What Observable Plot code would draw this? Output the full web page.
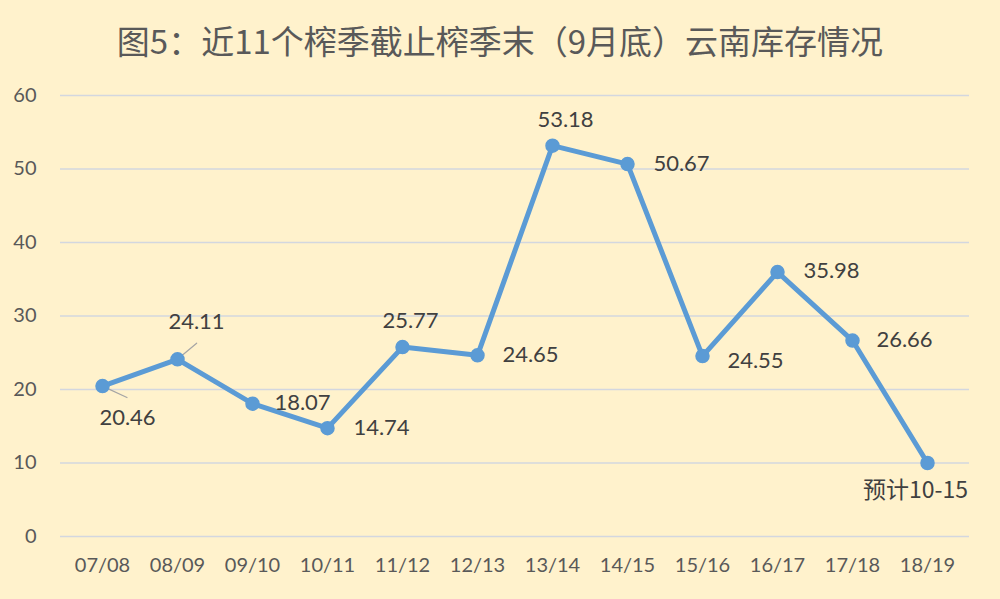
<!DOCTYPE html>
<html>
<head>
<meta charset="utf-8">
<script src="https://cdn.jsdelivr.net/npm/d3@7"></script>
<script src="https://cdn.jsdelivr.net/npm/@observablehq/plot@0.6"></script>
<style>
  html, body { margin: 0; padding: 0; background: #FFF2CC; }
  #title { height: 80px; line-height: 80px; text-align: center; font-family: "Noto Sans CJK SC", sans-serif; font-size: 33px; color: #595959; }
  #chart svg { display: block; }
</style>
</head>
<body>
<div id="title">图5：近11个榨季截止榨季末（9月底）云南库存情况</div>
<div id="chart"></div>
<script>
const categories = ["07/08","08/09","09/10","10/11","11/12","12/13","13/14","14/15","15/16","16/17","17/18","18/19"];
const values = [20.46, 24.11, 18.07, 14.74, 25.77, 24.65, 53.18, 50.67, 24.55, 35.98, 26.66, 10];
const labels = ["20.46","24.11","18.07","14.74","25.77","24.65","53.18","50.67","24.55","35.98","26.66","预计10-15"];
const yTicks = [0, 10, 20, 30, 40, 50, 60];
// label placement offsets (px) relative to each point
const labelDx = [25, 19, 50, 54, 8, 53, 13, 54, 53, 54, 52, -12];
const labelDy = [32, -37, -1, 0, -26, 0, -26, 0, 5, -1, -1, 28];

const data = categories.map((c, i) => ({cat: c, v: values[i], label: labels[i], dx: labelDx[i], dy: labelDy[i]}));

const leaderShape = { draw(context, l) { context.moveTo(0, 0); context.lineTo(0, -l); } };

const plot = Plot.plot({
  width: 1000,
  height: 519,
  marginLeft: 60,
  marginRight: 31,
  marginTop: 15,
  marginBottom: 63,
  style: { background: "transparent", fontFamily: "Lato, sans-serif", color: "#595959" },
  x: { type: "point", domain: categories, padding: 0.5, label: null },
  y: { domain: [0, 60], label: null },
  marks: [
    Plot.ruleY(yTicks, { stroke: "#d3d7df", strokeWidth: 1.3 }),
    Plot.axisY({ ticks: yTicks, tickSize: 0, tickPadding: 24, fontSize: 20, label: null }),
    Plot.axisX({ tickSize: 0, tickPadding: 21, fontSize: 20, label: null }),
    Plot.vector([data[0]], { x: "cat", y: "v", length: 27, rotate: 115, anchor: "start", shape: leaderShape, stroke: "#a5a5a5", strokeWidth: 1.2 }),
    Plot.vector([data[1]], { x: "cat", y: "v", length: 25, rotate: 50, anchor: "start", shape: leaderShape, stroke: "#a5a5a5", strokeWidth: 1.2 }),
    Plot.line(data, { x: "cat", y: "v", stroke: "#5B9BD5", strokeWidth: 5, curve: "linear" }),
    Plot.dot(data, { x: "cat", y: "v", r: 6.5, fill: "#5B9BD5", stroke: "#5B9BD5" }),
    ...data.map(d => Plot.text([d], {
      x: "cat", y: "v", text: "label", dx: d.dx, dy: d.dy,
      fontSize: d.label.startsWith("预") ? 23 : 22, fill: "#404040",
      fontFamily: d.label.startsWith("预") ? "Noto Sans CJK SC, sans-serif" : "Lato, sans-serif"
    }))
  ]
});
document.getElementById("chart").appendChild(plot);
</script>
</body>
</html>
